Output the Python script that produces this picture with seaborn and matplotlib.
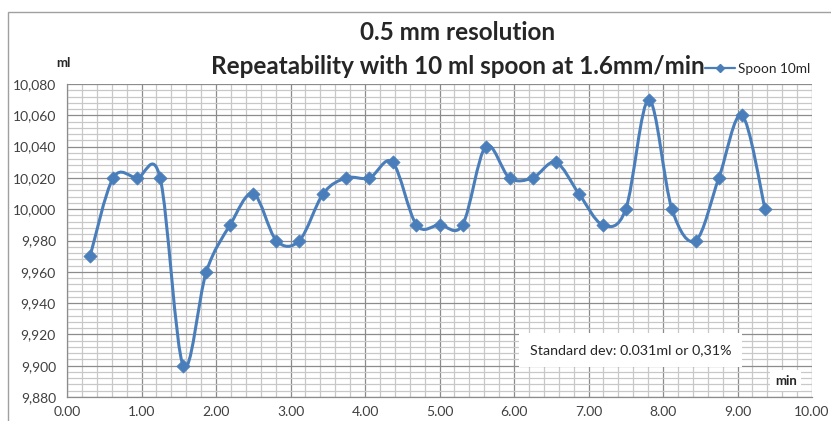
import numpy as np
import pandas as pd
import seaborn as sns
import matplotlib.pyplot as plt
from matplotlib.path import Path
from matplotlib.patches import PathPatch, Rectangle
from matplotlib.lines import Line2D
from matplotlib.ticker import MultipleLocator

# valores
minutes = [0.31, 0.62, 0.94, 1.25, 1.56, 1.87, 2.19, 2.50, 2.81, 3.12,
           3.44, 3.75, 4.06, 4.37, 4.69, 5.00, 5.31, 5.62, 5.94, 6.25,
           6.56, 6.87, 7.19, 7.50, 7.81, 8.12, 8.44, 8.75, 9.06, 9.37]
volume_ml = [9.97, 10.02, 10.02, 10.02, 9.90, 9.96, 9.99, 10.01, 9.98, 9.98,
             10.01, 10.02, 10.02, 10.03, 9.99, 9.99, 9.99, 10.04, 10.02, 10.02,
             10.03, 10.01, 9.99, 10.00, 10.07, 10.00, 9.98, 10.02, 10.06, 10.00]
series_name = 'Spoon 10ml'

x_ticks = [0, 1, 2, 3, 4, 5, 6, 7, 8, 9, 10]
x_tick_labels = [f'{v:.2f}' for v in x_ticks]
y_ticks = [9.88, 9.90, 9.92, 9.94, 9.96, 9.98, 10.00, 10.02, 10.04, 10.06, 10.08]
y_tick_labels = [f'{v:.3f}'.replace('.', ',') for v in y_ticks]

df = pd.DataFrame({'min': minutes, 'ml': volume_ml})

sns.set_style('white')
plt.rcParams['font.family'] = ['Lato', 'DejaVu Sans']

blue = '#4A7EBB'
fig = plt.figure(figsize=(8.31, 4.21), dpi=100)
W, H = 831, 421
ax = fig.add_axes([67 / W, (H - 397) / H, (812 - 67) / W, (397 - 84) / H])

# grade estilo Excel
ax.set_xlim(0, 10)
ax.set_ylim(9.88, 10.08)
ax.set_xticks(x_ticks)
ax.set_xticklabels(x_tick_labels)
ax.set_yticks(y_ticks)
ax.set_yticklabels(y_tick_labels)
ax.xaxis.set_minor_locator(MultipleLocator(0.2))
ax.yaxis.set_minor_locator(MultipleLocator(0.004))
ax.grid(which='major', color='#8c8c8c', linewidth=0.9)
ax.grid(which='minor', color='#c8c8c8', linewidth=0.9)
ax.set_axisbelow(True)
for s in ['top', 'right']:
    ax.spines[s].set_visible(False)
for s in ['left', 'bottom']:
    ax.spines[s].set_color('#8c8c8c')
    ax.spines[s].set_linewidth(0.9)
ax.tick_params(which='major', length=5, color='#8c8c8c', labelsize=10,
               labelcolor='#404040', pad=3)
ax.tick_params(which='minor', length=0)
ax.tick_params(axis='x', pad=1.5)

# linha suavizada (Bezier, como no Excel)
pts = np.column_stack([minutes, volume_ml])
verts = [tuple(pts[0])]
codes = [Path.MOVETO]
n = len(pts)
for i in range(n - 1):
    p0 = pts[max(i - 1, 0)]
    p1 = pts[i]
    p2 = pts[i + 1]
    p3 = pts[min(i + 2, n - 1)]
    c1 = p1 + (p2 - p0) / 6
    c2 = p2 - (p3 - p1) / 6
    verts += [tuple(c1), tuple(c2), tuple(p2)]
    codes += [Path.CURVE4] * 3
ax.add_patch(PathPatch(Path(verts, codes), facecolor='none', edgecolor=blue,
                       linewidth=2.2, zorder=3))

sns.scatterplot(data=df, x='min', y='ml', marker='D', s=45, color=blue,
                edgecolor=blue, zorder=4, ax=ax, legend=False)
ax.set_xlabel('')
ax.set_ylabel('')

# caixas de texto
ax.text(0.757, 0.15, 'Standard dev: 0.031ml or 0,31%', transform=ax.transAxes,
        fontsize=10.3, color='#262626', ha='center', va='center', zorder=5,
        bbox=dict(boxstyle='square,pad=0.75', facecolor='white', edgecolor='none'))
ax.text(0.965, 0.052, 'min', transform=ax.transAxes, fontsize=9.5,
        fontweight='bold', color='#262626', ha='center', va='center', zorder=5,
        bbox=dict(boxstyle='square,pad=0.35', facecolor='white', edgecolor='none'))
fig.text(63 / W, 1 - 63 / H, 'ml', fontsize=9.5, fontweight='bold',
         color='#262626', ha='center', va='center')

# títulos
fig.text(458 / W, 1 - 33 / H, '0.5 mm resolution', fontsize=17.5,
         fontweight='bold', ha='center', va='center')
fig.text(458 / W, 1 - 66 / H, 'Repeatability with 10 ml spoon at 1.6mm/min',
         fontsize=17.5, fontweight='bold', ha='center', va='center')

# legenda
handle = Line2D([], [], color=blue, linewidth=1.6, marker='D', markersize=4)
fig.legend([handle], [series_name], loc='center left',
           bbox_to_anchor=(705 / W, 1 - 69 / H), frameon=False, fontsize=9.8,
           handlelength=2.2, handletextpad=0.25, borderpad=0, borderaxespad=0)

# borda da área do gráfico
fig.patches.append(Rectangle((8 / W, -0.1), 1.2, 1 - 12 / H + 0.1,
                             transform=fig.transFigure, fill=False,
                             edgecolor='#a0a0a0', linewidth=1.0))

fig.savefig('out.png', dpi=100)
